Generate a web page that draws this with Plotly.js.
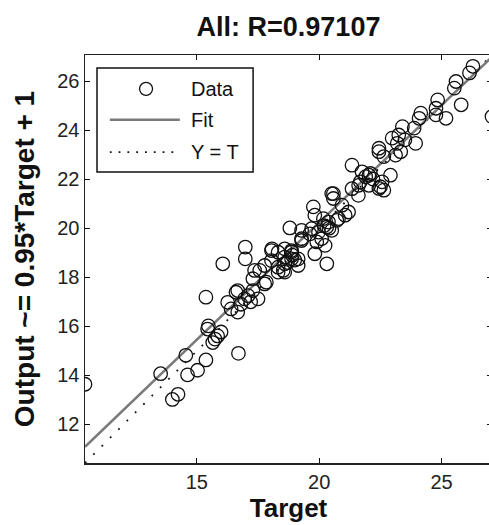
<!DOCTYPE html>
<html>
<head>
<meta charset="utf-8">
<script src="https://cdn.plot.ly/plotly-3.0.1.min.js"></script>
<style>html,body{margin:0;padding:0;overflow:hidden;background:#fff;}</style>
</head>
<body>
<div id="chart" style="width:492px;height:525px;"></div>
<script>
// Data
const targets = [10.43,13.52,14.0,14.23,14.55,14.62,15.03,15.37,16.7,15.44,15.65,15.74,15.99,15.47,15.85,15.37,16.06,16.98,16.98,16.26,
  16.6,16.95,17.29,17.5,17.29,17.36,17.77,17.77,18.05,18.32,18.53,16.67,16.4,16.67,17.09,17.84,18.32,18.59,18.07,18.8,
  18.87,19.28,19.76,19.82,20.31,19.82,20.58,19.69,20.38,20.79,21.06,20.1,18.59,19.14,21.6,22.03,22.44,20.58,20.93,21.2,
  20.17,20.31,20.51,19.97,20.72,19.28,19.28,19.62,19.9,20.24,18.87,18.59,18.05,18.87,19.14,18.59,17.57,21.34,22.44,22.5,
  22.09,21.68,21.34,21.75,22.03,22.91,22.57,22.64,21.61,20.51,22.44,22.64,23.12,23.33,22.98,23.19,23.94,23.25,23.4,23.88,
  24.08,24.15,24.77,24.84,25.18,25.8,25.52,25.59,26.14,26.28,27.06,24.77,18.32,18.7,18.9,19.0,20.2,20.4,22.2,21.9,
  17.2,16.8,23.5];
const outputs = [13.64,14.07,13.02,13.23,14.82,14.02,14.21,14.63,14.9,15.89,15.34,15.48,15.77,16.02,15.61,17.19,18.55,19.23,18.75,16.98,
  17.39,17.12,17.46,17.12,17.94,18.28,17.73,18.48,19.09,19.02,18.28,16.58,16.71,17.46,17.25,17.8,18.41,18.21,19.16,20.01,
  19.09,19.5,20.87,20.53,18.55,18.96,21.41,19.98,20.25,20.39,20.53,19.57,18.82,18.75,21.34,21.75,21.62,21.21,20.94,20.66,
  20.39,20.05,19.91,19.84,20.32,19.91,19.57,19.77,19.44,19.3,19.03,19.16,18.68,18.75,18.48,18.55,18.28,22.57,23.12,21.69,
  22.23,21.89,21.61,22.3,22.16,22.16,21.89,21.55,21.75,21.41,23.26,22.92,22.98,23.12,23.67,23.46,23.46,23.8,24.14,24.08,
  24.48,24.69,24.89,25.23,24.48,25.03,25.71,25.98,26.33,26.6,24.55,24.62,18.21,18.6,18.9,18.7,20.1,20.0,22.0,22.1,
  17.0,16.9,23.6];
const fitX = [10.43, 27.06];
const fitY = [11.09, 26.98];
const identX = [10.43, 27.06];
const identY = [10.43, 27.06];
const xTicks = [15, 20, 25];
const yTicks = [12, 14, 16, 18, 20, 22, 24, 26];
const legendNames = ['Data', 'Fit', 'Y = T'];

const FONT = 'Liberation Sans, Arial, Helvetica, sans-serif';

const traces = [
  {x: identX, y: identY, type: 'scatter', mode: 'lines', name: legendNames[2], showlegend: false,
   line: {color: '#111', width: 1.8, dash: '1.8px,10px'}, hoverinfo: 'skip'},
  {x: fitX, y: fitY, type: 'scatter', mode: 'lines', name: legendNames[1], showlegend: false,
   line: {color: '#7a7a7a', width: 2.5}, hoverinfo: 'skip'},
  {x: targets, y: outputs, type: 'scatter', mode: 'markers', name: legendNames[0], showlegend: false,
   marker: {symbol: 'circle-open', size: 13.5, color: '#111', line: {width: 1.3, color: '#111'}}}
];

// legend box geometry (paper coords)
const lx0 = 0.0295, lx1 = 0.413, ly0 = 0.713, ly1 = 0.968;
const rowY = [0.917, 0.841, 0.762];
const symX0 = 0.061, symX1 = 0.233, symXc = 0.150, textX = 0.255;

const layout = {
  width: 492, height: 525,
  margin: {l: 85, r: 0, t: 55, b: 62, pad: 0},
  paper_bgcolor: '#fff', plot_bgcolor: '#fff',
  showlegend: false,
  font: {family: FONT, size: 20, color: '#111'},
  title: {text: 'All: R=0.97107', font: {family: FONT, size: 27, weight: 'bold', color: '#111'},
          x: 0.5, xref: 'paper', xanchor: 'center', y: 0.95, yref: 'container', yanchor: 'middle'},
  xaxis: {range: [10.43, 27.06], tickvals: xTicks, ticktext: xTicks.map(String),
          ticks: 'inside', ticklen: 5, tickwidth: 1, tickcolor: '#111',
          showline: true, linecolor: '#222', linewidth: 1.5, mirror: 'ticks',
          showgrid: false, zeroline: false, fixedrange: true,
          tickfont: {family: FONT, size: 20, color: '#222'},
          title: {text: 'Target', font: {family: FONT, size: 26, weight: 'bold', color: '#111'}, standoff: 7}},
  yaxis: {range: [10.43, 27.06], tickvals: yTicks, ticktext: yTicks.map(String),
          ticks: 'inside', ticklen: 5, tickwidth: 1, tickcolor: '#111',
          showline: true, linecolor: '#222', linewidth: 1.5, mirror: 'ticks',
          showgrid: false, zeroline: false, fixedrange: true,
          tickfont: {family: FONT, size: 20, color: '#222'},
          title: {text: 'Output ~= 0.95*Target + 1', font: {family: FONT, size: 28, weight: 'bold', color: '#111'}, standoff: 14}},
  shapes: [
    {type: 'rect', xref: 'paper', yref: 'paper', x0: lx0, x1: lx1, y0: ly0, y1: ly1,
     line: {color: '#111', width: 1.5}, fillcolor: '#fff', layer: 'above'},
    {type: 'circle', xref: 'paper', yref: 'paper', xsizemode: 'pixel', ysizemode: 'pixel',
     xanchor: symXc, yanchor: rowY[0], x0: -6.5, x1: 6.5, y0: -6.5, y1: 6.5,
     line: {color: '#111', width: 1.3}, layer: 'above'},
    {type: 'line', xref: 'paper', yref: 'paper', x0: symX0, x1: symX1, y0: rowY[1], y1: rowY[1],
     line: {color: '#7a7a7a', width: 2.5}, layer: 'above'},
    {type: 'line', xref: 'paper', yref: 'paper', x0: symX0, x1: symX1, y0: rowY[2], y1: rowY[2],
     line: {color: '#111', width: 1.8, dash: '1.8px,7px'}, layer: 'above'}
  ],
  annotations: legendNames.map((n, i) => ({
    text: n, xref: 'paper', yref: 'paper', x: textX, y: rowY[i], xanchor: 'left', yanchor: 'middle',
    showarrow: false, font: {family: FONT, size: 20, color: '#111'}
  }))
};

Plotly.newPlot('chart', traces, layout, {displayModeBar: false, staticPlot: true});
</script>
</body>
</html>
